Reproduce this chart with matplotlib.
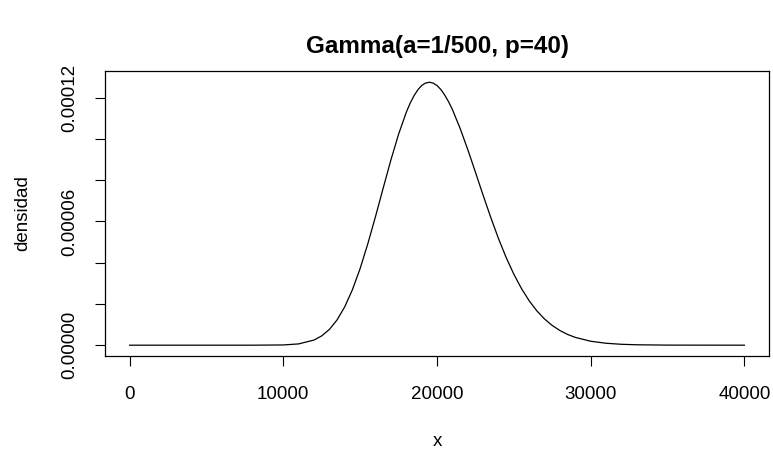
import matplotlib
matplotlib.use("Agg")
import matplotlib.pyplot as plt

# values
x_vals = [0, 4000, 8000, 10000, 11000, 12000, 12500, 13000, 13500, 14000,
          14500, 15000, 15500, 16000, 16500, 17000, 17500, 18000, 18250,
          18500, 18750, 19000, 19250, 19500, 19750, 20000, 20250, 20500,
          20750, 21000, 21500, 22000, 22500, 23000,
          23500, 24000, 24500, 25000, 25500, 26000, 26500, 27000, 27500,
          28000, 28500, 29000, 30000, 31000, 32000, 33000, 35000, 40000]
dens = [0.0, 0.0, 0.0, 1.1e-7, 6.2e-7, 2.49e-6, 4.51e-6, 7.65e-6, 1.227e-5,
        1.864e-5, 2.695e-5, 3.72e-5, 4.92e-5, 6.24e-5, 7.62e-5, 8.98e-5,
        1.023e-4, 1.129e-4, 1.173e-4, 1.209e-4, 1.238e-4, 1.259e-4,
        1.271e-4, 1.275e-4, 1.271e-4, 1.259e-4, 1.240e-4, 1.213e-4,
        1.181e-4, 1.143e-4, 1.052e-4, 9.49e-5, 8.39e-5, 7.27e-5, 6.19e-5,
        5.17e-5, 4.25e-5, 3.44e-5, 2.74e-5, 2.15e-5, 1.661e-5, 1.267e-5,
        9.54e-6, 7.09e-6, 5.20e-6, 3.77e-6, 1.91e-6, 9.3e-7, 4.3e-7,
        1.95e-7, 3.5e-8, 0.0]

x_ticks = [0, 10000, 20000, 30000, 40000]
y_ticks = [0, 0.00002, 0.00004, 0.00006, 0.00008, 0.00010, 0.00012]
y_labels = ["0.00000", "", "", "0.00006", "", "", "0.00012"]

plt.rcParams['font.family'] = ['Liberation Sans', 'DejaVu Sans']

fig = plt.figure(figsize=(7.73, 4.53), dpi=100)
ax = fig.add_axes([105 / 773, 1 - 355.7 / 453, 664 / 773, 285 / 453])

ax.plot(x_vals, dens, color='black', linewidth=0.9)

ax.set_xlim(-1600, 41600)
ax.set_ylim(-5.1e-6, 1.331e-4)
ax.set_xticks(x_ticks)
ax.set_xticklabels([str(v) for v in x_ticks])
ax.set_yticks(y_ticks)
ax.set_yticklabels(y_labels, rotation=90, va='center')

ax.tick_params(axis='both', direction='out', length=7, width=0.8,
               labelsize=13.5, colors='black')
ax.tick_params(axis='x', pad=15)
ax.tick_params(axis='y', pad=12)
for s in ax.spines.values():
    s.set_linewidth(0.9)

fig.text(0.5 * (105 + 769) / 773, 1 - 47 / 453, "Gamma(a=1/500, p=40)",
         ha='center', va='center', fontsize=17.5, fontweight='bold')
fig.text(0.5 * (105 + 769) / 773, 1 - 441 / 453, "x",
         ha='center', va='center', fontsize=13.5)
fig.text(23 / 773, 1 - 213 / 453, "densidad", rotation=90,
         ha='center', va='center', fontsize=13.5)

fig.savefig("out.png", dpi=100)
